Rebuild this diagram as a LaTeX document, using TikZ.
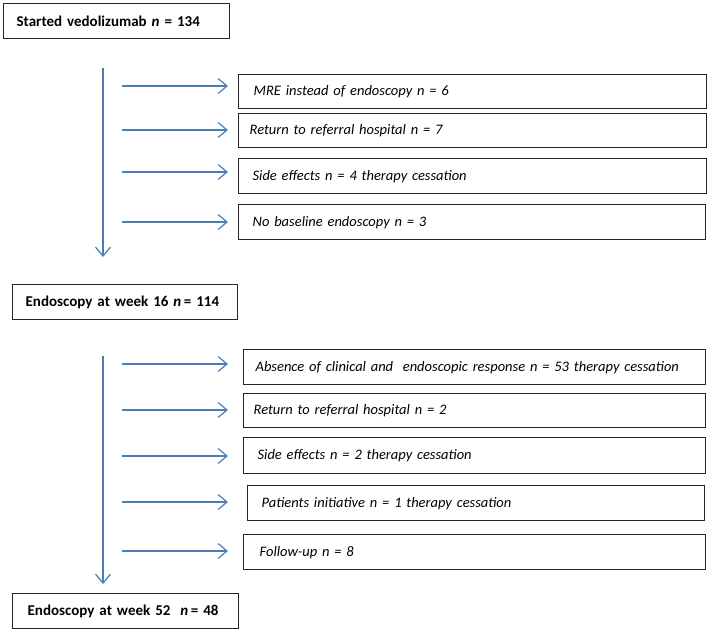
\documentclass[tikz,border=0pt]{standalone}
\usepackage{fontspec}
\setmainfont{Carlito}
\usetikzlibrary{arrows.meta}
\definecolor{arrowblue}{HTML}{4A7EBB}
\definecolor{boxline}{HTML}{262626}
\begin{document}
\begin{tikzpicture}[x=1pt,y=1pt,
  basebox/.style={draw=boxline, line width=1.3pt, anchor=north west, inner ysep=0pt, align=left, fill=white,
    execute at begin node={\hyphenpenalty=10000\exhyphenpenalty=10000}},
  mainbox/.style={basebox, font=\fontsize{15}{18}\selectfont\bfseries},
  sidebox/.style={basebox, font=\fontsize{14.5}{17}\selectfont\itshape},
  flow/.style={draw=arrowblue, line width=1.2pt, -{Straight Barb[length=9pt,width=15pt,line width=1.2pt]}}
]
\useasboundingbox (0,0) rectangle (709,-632);

% main boxes
\node[mainbox, minimum width=226, minimum height=35, inner xsep=13, text width=200] (b1) at (3,-3) {Started vedolizumab \textit{n} = 134};
\node[mainbox, minimum width=225, minimum height=35, inner xsep=13, text width=199] (b2) at (12,-284) {Endoscopy at week 16 \textit{n}\,= 114};
\node[mainbox, minimum width=226, minimum height=35, inner xsep=15, text width=196] (b3) at (12,-593) {Endoscopy at week 52\ \ \textit{n}\,= 48};

% side boxes, first group
\node[sidebox, minimum width=468, minimum height=34, inner xsep=15, text width=438] (s1) at (238,-74) {MRE instead of endoscopy n = 6};
\node[sidebox, minimum width=468, minimum height=34, inner xsep=11, text width=446] (s2) at (238,-113) {Return to referral hospital n = 7};
\node[sidebox, minimum width=468, minimum height=35, inner xsep=14, text width=440] (s3) at (238,-158) {Side effects n = 4 therapy cessation};
\node[sidebox, minimum width=467, minimum height=35, inner xsep=14, text width=439] (s4) at (238,-204) {No baseline endoscopy n = 3};

% side boxes, second group
\node[sidebox, minimum width=462, minimum height=35, inner xsep=12, text width=438] (t1) at (243,-349) {\mbox{Absence of clinical and\ \ endoscopic response n = 53 therapy cessation}};
\node[sidebox, minimum width=462, minimum height=34, inner xsep=10, text width=442] (t2) at (243,-393) {Return to referral hospital n = 2};
\node[sidebox, minimum width=462, minimum height=36, inner xsep=14, text width=434] (t3) at (243,-437) {Side effects n = 2 therapy cessation};
\node[sidebox, minimum width=457, minimum height=35, inner xsep=14, text width=429] (t4) at (247,-485) {Patients initiative n = 1 therapy cessation};
\node[sidebox, minimum width=462, minimum height=35, inner xsep=16, text width=430] (t5) at (243,-534) {Follow-up n = 8};

% vertical arrows
\coordinate (v1) at (103,-68);
\coordinate (v2) at (103,-356);
\draw[flow, shorten >=27pt] (v1) -- (v1 |- b2.north);
\draw[flow, shorten >=9pt] (v2) -- (v2 |- b3.north);

% horizontal arrows, first group
\coordinate (a1) at (122,-86);
\coordinate (a2) at (122,-130);
\coordinate (a3) at (122,-172);
\coordinate (a4) at (122,-222);
\draw[flow, shorten >=10pt] (a1) -- (a1 -| s1.west);
\draw[flow, shorten >=10pt] (a2) -- (a2 -| s2.west);
\draw[flow, shorten >=10pt] (a3) -- (a3 -| s3.west);
\draw[flow, shorten >=10pt] (a4) -- (a4 -| s4.west);

% horizontal arrows, second group
\coordinate (c1) at (122,-364);
\coordinate (c2) at (122,-410);
\coordinate (c3) at (122,-456);
\coordinate (c4) at (122,-502);
\coordinate (c5) at (122,-551);
\draw[flow, shorten >=15pt] (c1) -- (c1 -| t1.west);
\draw[flow, shorten >=15pt] (c2) -- (c2 -| t2.west);
\draw[flow, shorten >=15pt] (c3) -- (c3 -| t3.west);
\draw[flow, shorten >=19pt] (c4) -- (c4 -| t4.west);
\draw[flow, shorten >=15pt] (c5) -- (c5 -| t5.west);
\end{tikzpicture}
\end{document}
